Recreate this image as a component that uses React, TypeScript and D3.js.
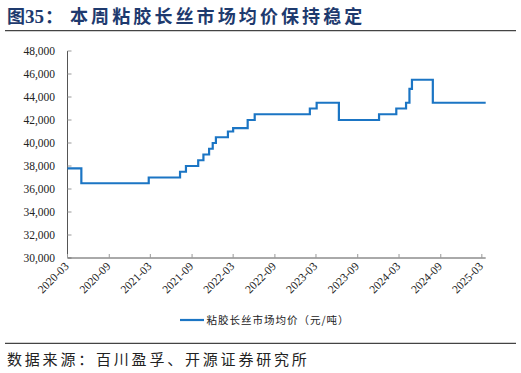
import React from "react";
import * as d3 from "d3";

const stepDates = [
  "2020-03-01", "2020-05-01", "2021-02-22", "2021-07-10", "2021-08-05", "2021-09-28",
  "2021-10-21", "2021-11-15", "2021-12-01", "2021-12-15", "2022-02-06", "2022-03-01",
  "2022-05-04", "2022-06-04", "2023-02-02", "2023-03-04", "2023-06-10", "2023-12-04",
  "2024-02-18", "2024-04-01", "2024-04-16", "2024-04-27", "2024-07-28", "2025-03-18",
];
const stepValues = [
  37800, 36500, 37000, 37500, 38000, 38500,
  39000, 39500, 40000, 40500, 41000, 41300,
  42000, 42500, 43000, 43500, 42000, 42500,
  43000, 43500, 44700, 45500, 43500, 43500,
];
const xTickLabels = [
  "2020-03", "2020-09", "2021-03", "2021-09", "2022-03", "2022-09",
  "2023-03", "2023-09", "2024-03", "2024-09", "2025-03",
];
const yTicks = [30000, 32000, 34000, 36000, 38000, 40000, 42000, 44000, 46000, 48000];

const titlePrefix = "图";
const titleNumber = "35";
const titleColon = "：";
const titleRest = "本周粘胶长丝市场均价保持稳定";
const legendLabel = "粘胶长丝市场均价（元/吨）";
const source = "数据来源：百川盈孚、开源证券研究所";

export default function App() {
  const W = 521, H = 373;
  const parse = d3.timeParse("%Y-%m-%d");
  const data = stepDates.map((d, i) => ({ date: parse(d) as Date, value: stepValues[i] }));
  const x = d3.scaleTime()
    .domain([parse("2020-03-01") as Date, parse("2025-03-18") as Date])
    .range([67.5, 485.7]);
  const y = d3.scaleLinear().domain([30000, 48000]).range([258, 51]);
  const line = d3.line<{ date: Date; value: number }>()
    .x(d => x(d.date))
    .y(d => y(d.value))
    .curve(d3.curveStepAfter);
  const fmt = d3.format(",");
  const tickDates = xTickLabels.map(s => parse(s + "-01") as Date);
  const serif = "'Liberation Serif', 'Times New Roman', serif";
  const cjk = "'Noto Sans CJK SC', sans-serif";

  return (
    <svg width={W} height={H} style={{ position: "absolute", left: 0, top: 0, background: "#fff" }}>
      <text x={7} y={23} fontSize={18} fontWeight="bold" fill="#1E3A6E" fontFamily={cjk}>
        <tspan>{titlePrefix}</tspan>
        <tspan fontFamily={serif} fontSize={19}>{titleNumber}</tspan>
        <tspan dx={1}>{titleColon}</tspan>
      </text>
      <text x={70} y={23} fontSize={18} fontWeight="bold" fill="#1E3A6E" fontFamily={cjk} letterSpacing={3.1}>
        {titleRest}
      </text>
      <line x1={5} x2={516} y1={30.7} y2={30.7} stroke="#444" strokeWidth={1.3} />

      {/* y axis */}
      <line x1={x.range()[0]} x2={x.range()[0]} y1={y(48000)} y2={y(30000)} stroke="#555" strokeWidth={1} />
      {yTicks.map(t => (
        <g key={t}>
          <line x1={x.range()[0]} x2={x.range()[0] + 4} y1={y(t)} y2={y(t)} stroke="#999" strokeWidth={1} />
          <text x={55} y={y(t) + 4} fontSize={11.5} textAnchor="end" fill="#222" fontFamily={serif}>
            {fmt(t)}
          </text>
        </g>
      ))}

      {/* x axis */}
      <line x1={x.range()[0]} x2={x.range()[1]} y1={y(30000)} y2={y(30000)} stroke="#555" strokeWidth={1} />
      {tickDates.map((d, i) => (
        <g key={i}>
          <line x1={x(d)} x2={x(d)} y1={y(30000)} y2={y(30000) - 4} stroke="#999" strokeWidth={1} />
          <text
            transform={`translate(${x(d) + 2},${y(30000) + 9}) rotate(-45)`}
            fontSize={11.5}
            textAnchor="end"
            fill="#222"
            fontFamily={serif}
          >
            {xTickLabels[i]}
          </text>
        </g>
      ))}

      <path d={line(data) || ""} fill="none" stroke="#1B75C4" strokeWidth={2.2} />

      {/* legend */}
      <line x1={180} x2={204} y1={320} y2={320} stroke="#1B75C4" strokeWidth={2.2} />
      <text x={206.5} y={324} fontSize={10.5} fill="#222" fontFamily={cjk} letterSpacing={1}>
        {legendLabel}
      </text>

      <line x1={5} x2={516} y1={343.3} y2={343.3} stroke="#444" strokeWidth={1.3} />
      <text x={7} y={365} fontSize={15} fill="#222" fontFamily={cjk} letterSpacing={2.8}>
        {source}
      </text>
    </svg>
  );
}
